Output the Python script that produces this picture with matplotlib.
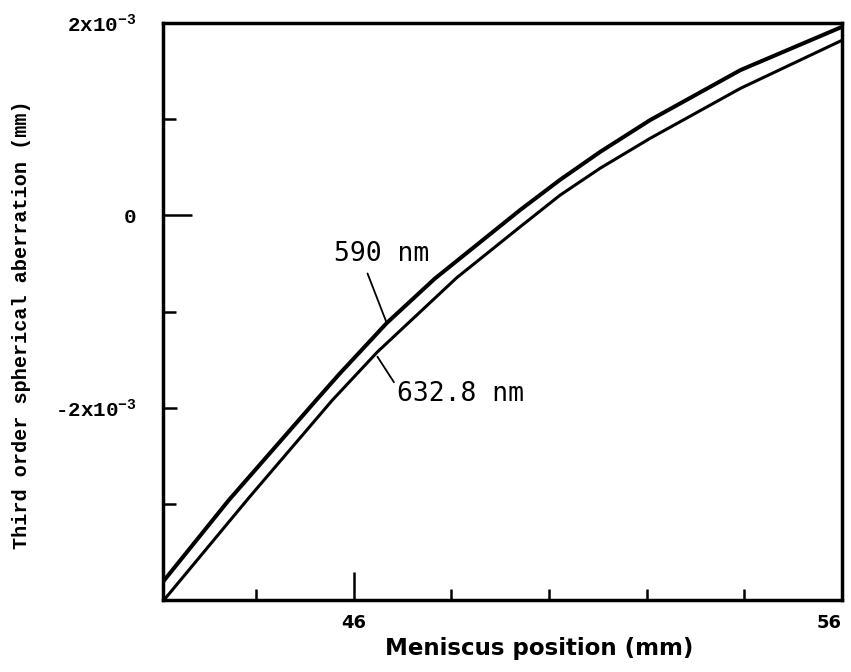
import numpy as np
import matplotlib
matplotlib.use("Agg")
import matplotlib.pyplot as plt

# y in units of 1e-3 mm
x_590 = [42.1, 43.45, 45.24, 45.71, 46.68, 47.66, 49.41, 50.23, 51.05, 52.07, 53.92, 56.0]
y_590 = [-3.81, -2.96, -1.92, -1.65, -1.12, -0.66, 0.055, 0.37, 0.66, 0.99, 1.51, 1.96]

x_633 = [42.12, 43.87, 45.57, 46.49, 48.11, 49.41, 50.23, 51.05, 52.07, 53.92, 56.0]
y_633 = [-4.0, -2.93, -1.92, -1.42, -0.65, -0.12, 0.21, 0.49, 0.80, 1.32, 1.82]

xticks = [46, 56]
xtick_labels = ["46", "56"]
xminor = [44, 48, 50, 52, 54]
yticks = [2, 0, -2]
ytick_labels = ["2x10$^{-3}$", "0", "-2x10$^{-3}$"]
yminor = [1, -1, -3]

plt.rcParams['mathtext.default'] = 'regular'

fig = plt.figure(figsize=(8.51, 6.72), dpi=100)
ax = fig.add_axes([163/851, 72/672, 679/851, 577/672])

ax.plot(x_590, y_590, color='black', lw=2.9, solid_capstyle='butt', solid_joinstyle='round')
ax.plot(x_633, y_633, color='black', lw=2.2, solid_capstyle='butt', solid_joinstyle='round')

ax.set_xlim(42.1, 56)
ax.set_ylim(-4, 2)

for s in ax.spines.values():
    s.set_linewidth(2.5)

ax.set_xticks(xticks)
ax.set_xticklabels(xtick_labels, fontfamily='DejaVu Sans', fontweight='bold', fontsize=13)
ax.get_xticklabels()[1].set_horizontalalignment('right')
ax.set_xticks(xminor, minor=True)
ax.set_yticks(yticks)
ax.set_yticklabels(ytick_labels, fontfamily='Liberation Mono', fontweight='bold', fontsize=15)
ax.set_yticks(yminor, minor=True)

ax.tick_params(axis='both', which='both', direction='in', width=1.8)
ax.tick_params(axis='x', which='major', length=20, pad=10)
ax.tick_params(axis='x', which='minor', length=8)
ax.tick_params(axis='y', which='major', length=10, pad=19)
ax.tick_params(axis='y', which='minor', length=9)
# the zero tick is drawn longer
ax.yaxis.get_major_ticks()[1].tick1line.set_markersize(21)
ax.xaxis.get_major_ticks()[1].tick1line.set_markersize(0)

ax.annotate("590 nm", xy=(46.68, -1.12), xytext=(45.61, -0.40),
            ha='left', va='center', fontsize=19, fontfamily='DejaVu Sans Mono',
            arrowprops=dict(arrowstyle='-', lw=1.3, color='black',
                            relpos=(0.32, 0.0), shrinkA=3, shrinkB=0))
ax.annotate("632.8 nm", xy=(46.49, -1.47), xytext=(46.90, -1.86),
            ha='left', va='center', fontsize=19, fontfamily='DejaVu Sans Mono',
            arrowprops=dict(arrowstyle='-', lw=1.3, color='black',
                            relpos=(0.0, 0.75), shrinkA=1, shrinkB=0))

fig.text(22/851, 1 - 325/672, "Third order spherical aberration (mm)", rotation=90,
         ha='center', va='center', fontfamily='Liberation Mono', fontweight='bold', fontsize=14.5)
fig.text(539/851, 1 - 649/672, "Meniscus position (mm)", ha='center', va='center',
         fontfamily='DejaVu Sans', fontweight='bold', fontsize=16.5)

fig.savefig("out.png", dpi=100)
